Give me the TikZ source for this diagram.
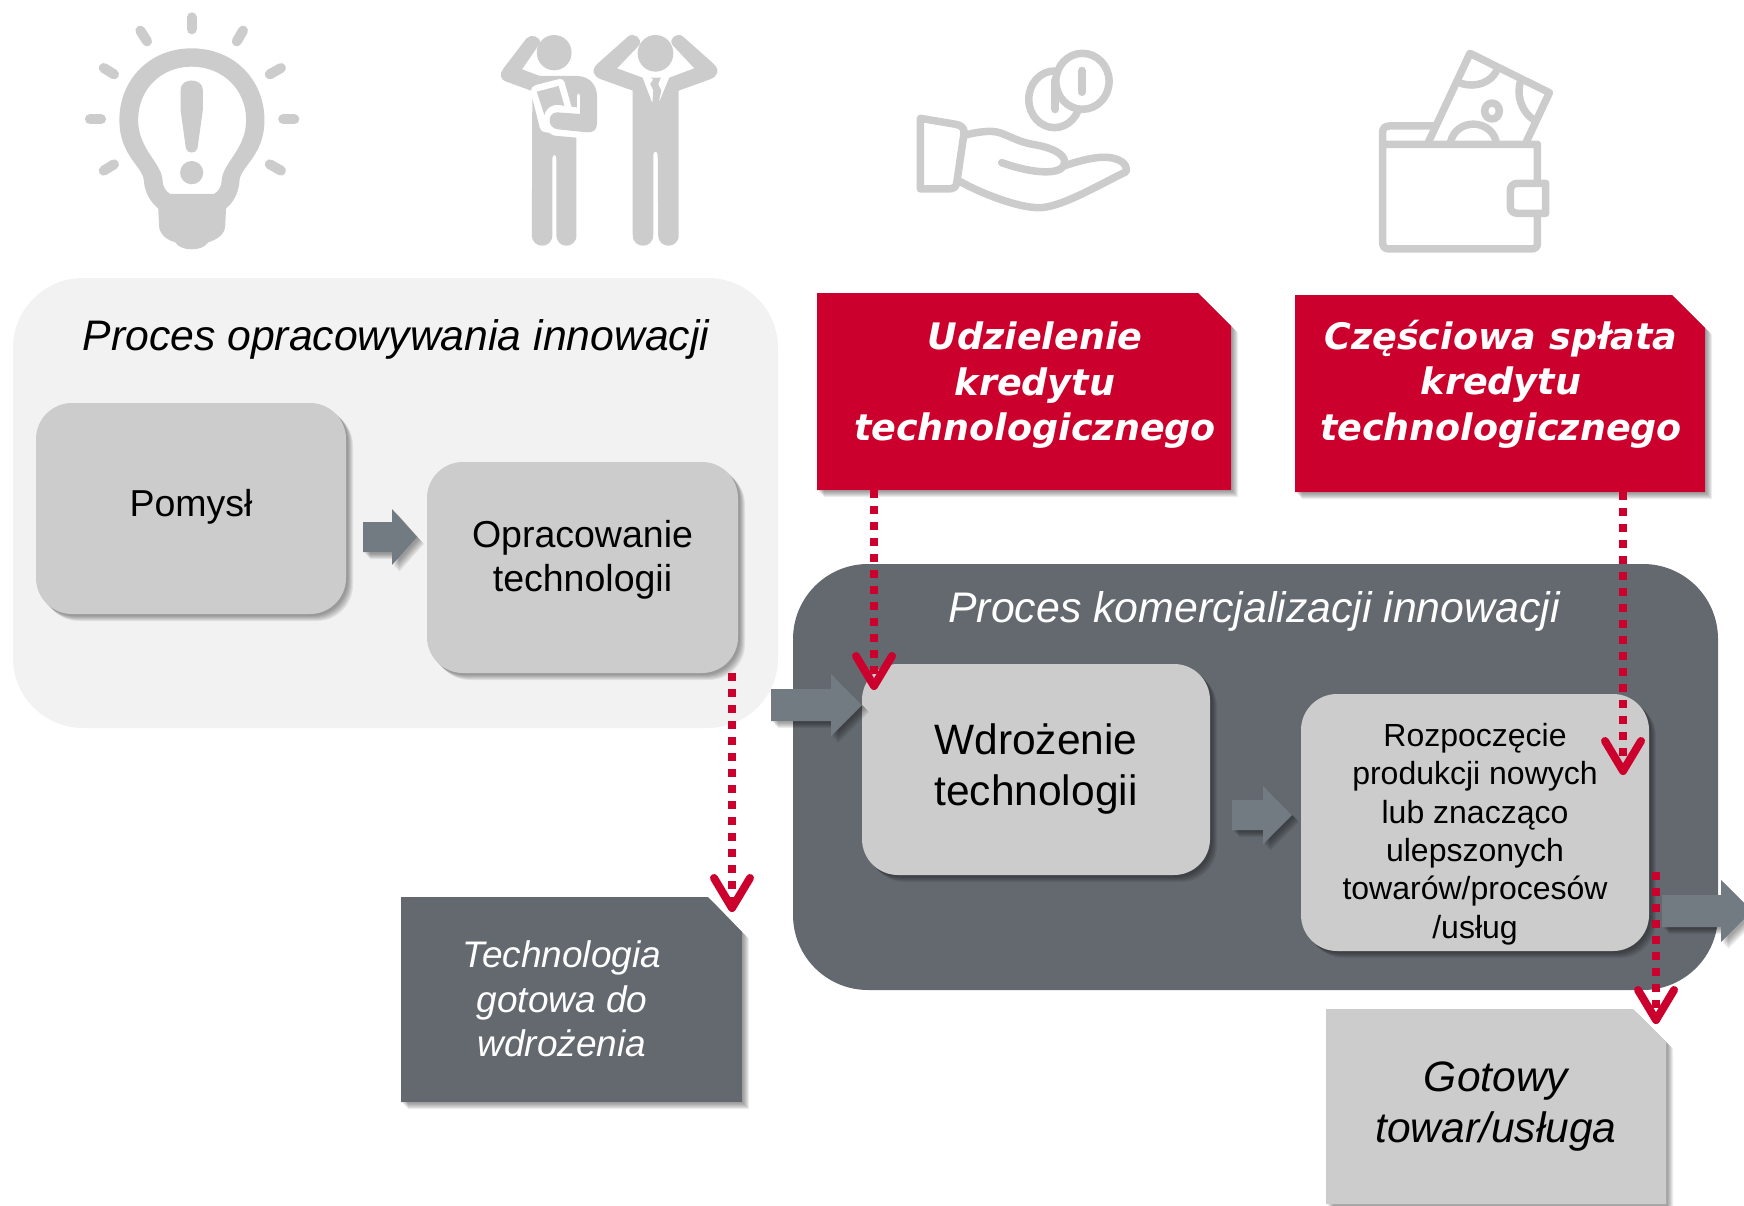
\documentclass[tikz,border=0pt]{standalone}
\usepackage{fontspec}
\setmainfont{Liberation Sans}
\newfontfamily\redfont{DejaVu Sans}
\usetikzlibrary{arrows.meta}
\definecolor{regionlight}{HTML}{F2F2F2}
\definecolor{regiondark}{HTML}{63696F}
\definecolor{boxgray}{HTML}{CCCCCC}
\definecolor{arrowgray}{HTML}{737B82}
\definecolor{mainred}{HTML}{CC002C}
\newcommand{\fsize}[2]{\fontsize{#1}{#2}\selectfont}
\newcommand{\blockarrow}[6]{\fill[blockarrow] (#1,#4-#5) -- (#2,#4-#5) -- (#2,#4-#6) -- (#3,#4) -- (#2,#4+#6) -- (#2,#4+#5) -- (#1,#4+#5) -- cycle;}
\tikzset{
    shadowstep/.style={preaction={fill=black,fill opacity=0.07,transform canvas={xshift=#1,yshift=-#1}}},
    softshadow/.style={shadowstep=7pt,shadowstep=6pt,shadowstep=5pt,shadowstep=4pt,shadowstep=3pt,shadowstep=2pt},
    blockarrow/.style={softshadow,fill=arrowgray},
    graybox/.style={rectangle,rounded corners=36pt,softshadow,fill=boxgray},
    boxtext/.style={align=center,text=black},
    ondark/.style={text=white,align=center},
    onred/.style={text=white,align=center,font=\redfont\bfseries\itshape\fsize{36.5}{45.5}},
    dotline/.style={draw=mainred,line width=7.5pt,dash pattern=on 8pt off 8pt,-{Straight Barb[length=30pt,width=36pt,line width=8pt,round]}},
    icon/.style={fill=boxgray,draw=none},
    iconline/.style={draw=boxgray,line width=7.5pt,line join=round,line cap=round},
    ray/.style={draw=boxgray,line width=10pt,line cap=round}
}
\begin{document}
\begin{tikzpicture}[x=1pt,y=-1pt]
    \clip (0,0) rectangle (1744,1206);
    % bulb
    \begin{scope}[shift={(60,0)},x=0.4464pt,y=-0.3333pt]
        \fill[icon,even odd rule] (295,145) .. controls (200,145) and (133,240) .. (133,360) .. controls (133,470) and (188,500) .. (188,545) .. controls (190,580) and (205,610) .. (220,625) -- (222,680) .. controls (224,705) and (240,720) .. (258,727) .. controls (265,742) and (280,748) .. (295,748) .. controls (310,748) and (325,742) .. (332,727) .. controls (350,720) and (368,705) .. (370,680) -- (372,625) .. controls (387,610) and (400,580) .. (402,545) .. controls (402,500) and (458,470) .. (458,360) .. controls (458,240) and (390,145) .. (295,145) -- cycle
            (295,200) .. controls (225,200) and (175,270) .. (175,360) .. controls (175,450) and (230,490) .. (230,545) .. controls (231,562) and (238,575) .. (247,582) -- (345,582) .. controls (354,575) and (361,562) .. (362,545) .. controls (362,490) and (417,450) .. (417,360) .. controls (417,270) and (365,200) .. (295,200) -- cycle;
        \fill[icon] (270,270) .. controls (270,232) and (320,232) .. (320,270) -- (320,330) -- (308,445) .. controls (306,462) and (284,462) .. (282,445) -- (270,330) -- cycle;
        \fill[icon] (295,518) ellipse [x radius=26,y radius=35];
        \draw[ray] (295,52) -- (295,88);
        \draw[ray] (180,92) -- (195,124);
        \draw[ray] (410,92) -- (396,124);
        \draw[ray] (98,204) -- (121,223);
        \draw[ray] (495,204) -- (470,223);
        \draw[ray] (67,358) -- (92,358);
        \draw[ray] (500,358) -- (525,358);
        \draw[ray] (121,493) -- (98,512);
        \draw[ray] (470,493) -- (495,512);
        % people
        \fill[icon] (1107,158) ellipse [x radius=39,y radius=53];
        \fill[icon] (1334,160) ellipse [x radius=40,y radius=55];
        \fill[icon] (1055,272) -- (1000,245) .. controls (985,238) and (985,222) .. (992,208) -- (1045,115) .. controls (1055,100) and (1078,110) .. (1075,130) -- (1035,208) -- (1075,228) -- (1160,228) .. controls (1190,230) and (1203,260) .. (1203,290) -- (1203,370) .. controls (1203,390) and (1195,398) .. (1180,397) -- (1115,388) .. controls (1092,385) and (1090,340) .. (1113,337) -- (1165,342) -- (1165,285) .. controls (1165,278) and (1158,278) .. (1158,285) -- (1158,322) -- (1146,320) -- (1130,245) .. controls (1128,238) and (1122,236) .. (1118,237) -- (1065,255) .. controls (1058,258) and (1055,265) .. (1055,272) -- cycle;
        \fill[icon] (1068,275) -- (1117,258) -- (1130,318) .. controls (1105,308) and (1090,322) .. (1085,345) -- cycle;
        \fill[icon] (1058,295) -- (1075,385) .. controls (1078,395) and (1085,398) .. (1095,398) .. controls (1100,405) and (1105,407) .. (1115,408) -- (1157,413) -- (1157,705) .. controls (1157,748) and (1112,748) .. (1112,705) -- (1112,475) .. controls (1112,462) and (1103,462) .. (1103,475) -- (1103,705) .. controls (1103,748) and (1057,748) .. (1057,705) -- cycle;
        \fill[icon] (1283,272) -- (1212,238) .. controls (1195,230) and (1188,210) .. (1205,190) -- (1272,110) .. controls (1285,95) and (1305,115) .. (1298,135) -- (1248,205) -- (1305,233) -- (1327,310) -- (1329,270) -- (1322,252) -- (1329,238) -- (1323,233) -- (1346,233) -- (1340,252) -- (1347,272) -- (1341,310) -- (1365,233) -- (1421,205) -- (1372,135) .. controls (1362,115) and (1383,95) .. (1396,110) -- (1463,190) .. controls (1480,210) and (1473,230) .. (1456,238) -- (1386,272) -- (1386,705) .. controls (1386,748) and (1340,748) .. (1340,705) -- (1339,465) .. controls (1339,452) and (1329,452) .. (1329,465) -- (1329,705) .. controls (1329,748) and (1283,748) .. (1283,705) -- cycle;
    \end{scope}
    % hand with coins, wallet
    \begin{scope}[shift={(880,20)},x=0.4591pt,y=-0.3333pt]
        \draw[iconline] (88,295) -- (88,507) -- (150,507) .. controls (160,507) and (166,500) .. (167,490) -- (183,340) .. controls (184,325) and (178,316) .. (165,313) -- cycle;
        \draw[iconline] (186,345) .. controls (225,332) and (250,330) .. (270,343) .. controls (300,360) and (310,368) .. (340,375) .. controls (380,385) and (402,405) .. (402,425) .. controls (402,450) and (380,458) .. (350,455) .. controls (320,452) and (290,440) .. (265,428);
        \draw[iconline] (400,438) .. controls (440,420) and (470,410) .. (495,412) .. controls (520,415) and (540,430) .. (536,455) .. controls (470,500) and (390,565) .. (345,563) .. controls (300,563) and (220,520) .. (175,485);
        \draw[iconline] (380,238) ellipse [x radius=56,y radius=85];
        \draw[iconline,line width=8pt] (382,180) -- (382,268);
        \draw[iconline,fill=white] (441,184) ellipse [x radius=58,y radius=84];
        \draw[iconline,line width=8pt] (440,152) -- (440,216);
        \draw[iconline] (1095,373) -- (1095,335) .. controls (1095,325) and (1100,318) .. (1110,318) -- (1205,318);
        \draw[iconline] (1095,373) -- (1432,373) -- (1432,480) (1432,590) -- (1432,670) .. controls (1432,680) and (1428,687) .. (1418,687) -- (1108,687) .. controls (1100,687) and (1095,680) .. (1095,670) -- (1095,373);
        \draw[iconline] (1450,490) -- (1390,490) .. controls (1378,490) and (1373,500) .. (1373,510) -- (1373,560) .. controls (1373,572) and (1378,580) .. (1390,580) -- (1450,580) -- cycle;
        \draw[iconline] (1195,365) -- (1285,100) -- (1458,218) -- (1408,365);
        \draw[iconline] (1265,190) .. controls (1300,205) and (1330,185) .. (1342,155);
        \draw[iconline] (1395,185) .. controls (1385,230) and (1400,280) .. (1425,300);
        \draw[iconline] (1243,365) .. controls (1255,295) and (1330,295) .. (1342,365);
        \draw[iconline] (1333,273) ellipse [x radius=16,y radius=24];
    \end{scope}
    % regions
    \fill[regionlight,rounded corners=70pt] (13,278) rectangle (778,728);
    \fill[regiondark,rounded corners=75pt] (793,564) rectangle (1718,990);
    \node[boxtext,font=\itshape\fsize{42.7}{50}] (titleone) at (396,339) {Proces opracowywania innowacji};
    \node[ondark,font=\itshape\fsize{42.8}{50}] (titletwo) at (1254,611) {Proces komercjalizacji innowacji};
    % boxes
    \node[graybox,minimum width=310pt,minimum height=211pt] (pomysl) at (191,508.5) {};
    \node[boxtext,font=\fsize{37.5}{44.5}] (pomysltext) at (191,507) {Pomysł};
    \node[graybox,minimum width=311pt,minimum height=211pt] (opracowanie) at (582.5,567.5) {};
    \node[boxtext,font=\fsize{37.5}{44.5}] (opracowanietext) at (582.5,560) {Opracowanie\\technologii};
    \node[graybox,boxtext,minimum width=348pt,minimum height=211pt,font=\fsize{42.5}{51}] (wdrozenie) at (1036,769.5) {Wdrożenie\\technologii};
    \node[graybox,minimum width=348pt,minimum height=257pt] (produkcja) at (1475,822.5) {};
    \node[boxtext,font=\fsize{32}{38.3}] (produkcjatext) at (1475,834) {Rozpoczęcie\\produkcji nowych\\lub znacząco\\ulepszonych\\towarów/procesów\\/usług};
    % cut corner boxes
    \fill[softshadow,fill=regiondark] (401,897) -- (708,897) -- (742,932) -- (742,1102) -- (401,1102) -- cycle;
    \node[ondark,font=\itshape\fsize{37}{44.5}] (gotowa) at (562,999) {Technologia\\gotowa do\\wdrożenia};
    \fill[softshadow,fill=boxgray] (1326,1009) -- (1633,1009) -- (1666,1042) -- (1666,1204) -- (1326,1204) -- cycle;
    \node[boxtext,font=\itshape\fsize{42.5}{51}] (towar) at (1496,1107) {Gotowy\\towar/usługa};
    \fill[softshadow,fill=mainred] (817,293) -- (1198,293) -- (1231,326) -- (1231,490) -- (817,490) -- cycle;
    \node[onred] (udzielenie) at (1035,385.5) {Udzielenie\\kredytu\\technologicznego};
    \fill[softshadow,fill=mainred] (1295,295) -- (1672,295) -- (1705,328) -- (1705,492) -- (1295,492) -- cycle;
    \node[onred] (splata) at (1501,384) {Częściowa spłata\\kredytu\\technologicznego};
    % block arrows
    \blockarrow{363}{392}{417}{537}{15}{28}
    \blockarrow{771}{831}{862}{705}{16}{31}
    \blockarrow{1232}{1263}{1292}{815}{15}{29}
    \blockarrow{1662}{1721}{1752}{911}{16}{31}
    % dotted connectors
    \coordinate (dotonea) at (732,673);
    \coordinate (dotoneb) at (732,912);
    \coordinate (dottwoa) at (874,490);
    \coordinate (dottwob) at (874,690);
    \coordinate (dotthreea) at (1623,492);
    \coordinate (dotthreeb) at (1623,775);
    \coordinate (dotfoura) at (1656,872);
    \coordinate (dotfourb) at (1656,1024);
    \draw[dotline] (dotonea) -- (dotoneb);
    \draw[dotline] (dottwoa) -- (dottwob);
    \draw[dotline] (dotthreea) -- (dotthreeb);
    \draw[dotline] (dotfoura) -- (dotfourb);
\end{tikzpicture}
\end{document}
